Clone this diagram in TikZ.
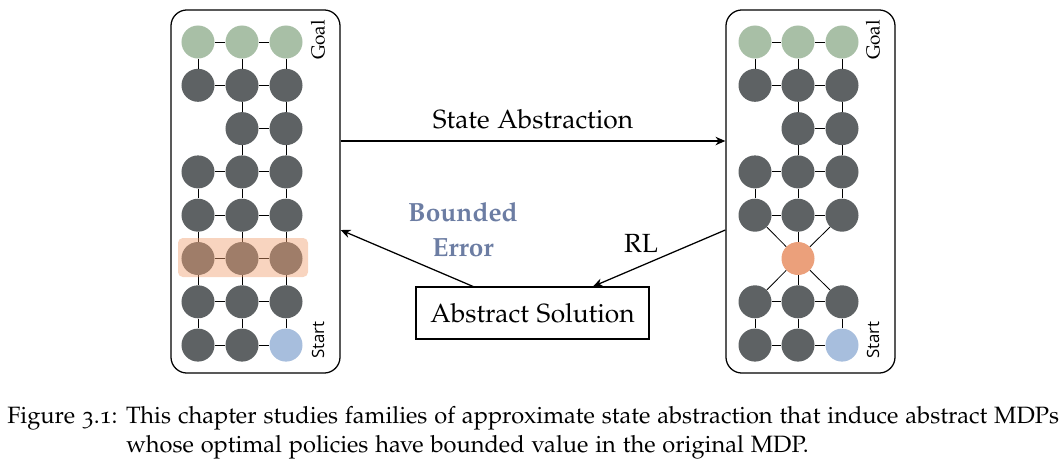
\documentclass[tikz,border=0pt]{standalone}
\usepackage{fontspec}
\newfontfamily\startfont{Open Sans}
\usepackage[T1]{fontenc}
\usepackage[osf]{mathpazo}
\usetikzlibrary{arrows.meta}
\definecolor{dk}{HTML}{5E6264}
\definecolor{gl}{HTML}{A8BFA6}
\definecolor{stc}{HTML}{A7BEDD}
\definecolor{ab}{HTML}{EBA07B}
\definecolor{be}{HTML}{6C7DA3}
\definecolor{hl}{HTML}{F0A070}
\tikzset{
  s/.style={circle, fill=dk, minimum size=0.825cm, inner sep=0pt},
  goalc/.style={s, fill=gl},
  startc/.style={s, fill=stc},
  absc/.style={s, fill=ab},
  edge/.style={draw=black, line width=0.6pt},
  panel/.style={draw, line width=0.9pt, rounded corners=0.4cm, minimum width=4.225cm, minimum height=9.075cm, inner sep=0pt},
  arr/.style={line width=0.9pt, -{Stealth[length=7pt,width=6pt]}},
  lbl/.style={font=\fontsize{18.7}{22}\selectfont},
  side/.style={rotate=90, font=\fontsize{13.5}{15}\selectfont},
  sides/.style={rotate=90, font=\fontsize{12}{14}\startfont},
  capt/.style={anchor=base west, font=\fontsize{16.8}{20}\selectfont, inner sep=0pt}
}
\begin{document}
\begin{tikzpicture}[x=0.025cm,y=-0.025cm]
\useasboundingbox (0,0) rectangle (1061,468);
% panels
\node[panel] (LB) at (255.5,191.5) {};
\node[panel] (RB) at (810.5,191.5) {};
% left grid
\foreach \c/\x in {0/198,1/242,2/286}{
  \node[goalc] (L0\c) at (\x,42) {};
  \node[s] (L1\c) at (\x,85.3) {};
  \node[s] (L3\c) at (\x,171.9) {};
  \node[s] (L4\c) at (\x,215.2) {};
  \node[s] (L5\c) at (\x,258.5) {};
  \node[s] (L6\c) at (\x,301.8) {};
}
\node[s] (L21) at (242,128.6) {};
\node[s] (L22) at (286,128.6) {};
\node[s] (L70) at (198,345.1) {};
\node[s] (L71) at (242,345.1) {};
\node[startc] (L72) at (286,345.1) {};
\foreach \r in {0,1,3,4,5,6,7}{ \draw[edge] (L\r0) -- (L\r1) -- (L\r2); }
\draw[edge] (L21) -- (L22);
\foreach \c in {0,1,2}{
  \draw[edge] (L0\c) -- (L1\c);
  \draw[edge] (L3\c) -- (L4\c) -- (L5\c) -- (L6\c) -- (L7\c);
}
\foreach \c in {1,2}{ \draw[edge] (L1\c) -- (L2\c) -- (L3\c); }
\fill[hl, opacity=0.45, rounded corners=0.12cm] (178,238) rectangle (308,277);
\node[side] (LG) at (318,40) {Goal};
\node[sides] (LS) at (318,340) {Start};
% right grid
\foreach \c/\x in {0/755,1/798,2/842}{
  \node[goalc] (R0\c) at (\x,42) {};
  \node[s] (R1\c) at (\x,85.3) {};
  \node[s] (R3\c) at (\x,171.9) {};
  \node[s] (R4\c) at (\x,215.2) {};
  \node[s] (R6\c) at (\x,301.8) {};
}
\node[s] (R21) at (798,128.6) {};
\node[s] (R22) at (842,128.6) {};
\node[absc] (R51) at (798,258.5) {};
\node[s] (R70) at (755,345.1) {};
\node[s] (R71) at (798,345.1) {};
\node[startc] (R72) at (842,345.1) {};
\foreach \r in {0,1,3,4,6,7}{ \draw[edge] (R\r0) -- (R\r1) -- (R\r2); }
\draw[edge] (R21) -- (R22);
\foreach \c in {0,1,2}{
  \draw[edge] (R0\c) -- (R1\c);
  \draw[edge] (R3\c) -- (R4\c);
  \draw[edge] (R6\c) -- (R7\c);
  \draw[edge] (R4\c) -- (R51);
  \draw[edge] (R51) -- (R6\c);
}
\foreach \c in {1,2}{ \draw[edge] (R1\c) -- (R2\c) -- (R3\c); }
\node[side] (RG) at (873,40) {Goal};
\node[sides] (RS) at (873,340) {Start};
% middle
\node[draw, line width=0.8pt, minimum width=5.825cm, minimum height=1.3cm, lbl] (AS) at (532.5,313) {Abstract Solution};
\coordinate (ya) at (0,141);
\coordinate (yb) at (0,230);
\coordinate (xa) at (473,0);
\coordinate (xb) at (593,0);
\draw[arr] (LB.east |- ya) -- node[lbl, above=5pt] (SA) {State Abstraction} (RB.west |- ya);
\draw[arr] (AS.north -| xa) -- (LB.east |- yb);
\draw[arr] (RB.west |- yb) -- (AS.north -| xb);
\node[text=be, font=\fontsize{18.7}{22}\selectfont\bfseries, align=center] (BE) at (463,230) {Bounded\\[3pt]Error};
\node[lbl] (RL) at (641,243) {RL};
% caption
\node[capt] (C1) at (7,423) {Figure 3.1: This chapter studies families of approximate state abstraction that induce abstract MDPs};
\node[capt] (C2) at (126,452) {whose optimal policies have bounded value in the original MDP.};
\end{tikzpicture}
\end{document}
